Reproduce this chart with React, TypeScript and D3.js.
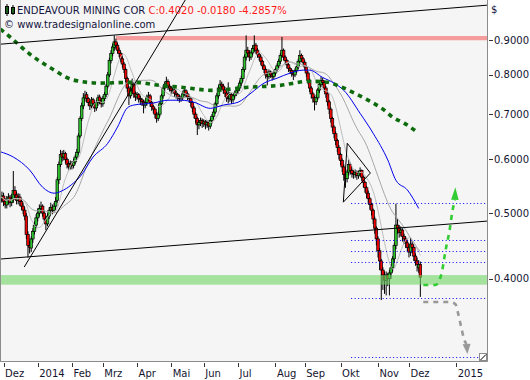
import React from 'react';
import * as d3 from 'd3';

// Prices are stored in thousandths of a dollar (525 = 0.525)
const openK = [520,526,530,520,514,522,528,518,524,540,532,522,528,520,512,505,495,465,448,444,458,470,480,492,500,508,512,500,490,482,495,505,510,505,512,522,560,590,612,605,612,600,592,585,592,588,595,605,615,650,690,720,740,748,738,728,720,735,725,715,728,742,732,725,738,748,770,800,840,860,878,895,885,870,860,845,830,815,790,765,745,760,775,750,742,748,738,735,730,722,728,740,745,728,718,712,700,690,700,725,745,765,775,782,770,765,758,760,752,748,742,738,740,750,758,750,742,738,728,715,700,690,675,680,685,678,682,675,680,672,685,695,705,725,745,765,775,770,760,752,740,738,748,735,745,752,758,765,778,790,815,850,870,862,850,862,875,885,870,858,850,838,825,815,800,795,808,800,795,805,815,825,838,855,870,850,840,828,818,812,805,800,812,822,838,855,845,835,822,805,785,765,750,740,730,740,760,775,785,780,765,750,730,712,690,670,655,640,625,610,598,585,570,562,575,590,578,572,570,575,568,572,578,565,555,545,535,525,515,505,490,475,458,440,425,412,405,398,405,400,408,415,428,448,480,475,468,472,462,458,452,445,438,450,445,432,425,415,420];
const highK = [535,538,536,526,530,535,532,534,577,548,538,535,534,526,518,510,500,470,455,462,475,486,498,508,515,520,515,504,495,500,510,518,515,518,528,565,596,620,618,620,616,604,596,598,597,602,610,622,656,695,728,752,758,755,742,732,742,740,730,735,748,748,738,745,755,776,808,848,870,890,915,905,892,878,866,852,836,820,795,770,768,790,780,756,755,752,745,740,735,735,748,755,750,732,722,716,705,706,730,750,772,782,795,788,776,770,766,764,758,752,748,746,756,765,762,754,748,742,732,720,705,694,686,692,690,688,686,686,684,690,700,712,730,752,772,786,782,776,768,758,780,755,752,750,758,765,772,785,798,822,858,915,880,870,870,885,915,892,876,864,856,842,830,820,806,815,812,805,812,820,832,845,862,910,875,855,845,832,822,816,810,818,828,845,870,860,850,840,826,810,790,770,755,745,748,765,782,795,792,785,770,754,735,716,694,674,660,644,630,614,602,590,575,580,600,594,582,578,580,578,577,584,580,568,558,548,540,528,518,508,494,478,462,444,428,416,410,410,408,412,420,432,452,516,490,480,478,475,466,462,456,448,460,455,448,436,430,426,424];
const lowK = [512,518,512,508,508,515,510,512,518,525,515,515,512,505,498,488,458,430,436,438,452,465,475,486,494,502,494,484,472,478,490,498,498,500,506,518,552,585,596,598,592,582,578,580,580,582,590,600,610,645,684,712,730,728,720,710,714,716,705,708,720,724,716,718,730,742,764,794,832,852,868,872,860,850,835,820,805,780,755,722,738,752,740,732,735,728,722,720,702,714,720,732,718,708,702,690,680,684,694,718,738,756,766,760,756,748,750,742,738,732,728,730,734,744,742,734,728,718,705,690,678,652,665,672,668,670,665,668,662,666,678,688,700,718,738,758,760,750,742,730,726,730,725,728,738,745,750,758,770,782,808,840,850,838,842,855,865,860,848,840,828,815,805,790,772,788,792,785,788,798,808,818,830,848,840,830,818,808,802,795,786,794,805,815,830,836,826,812,795,775,755,738,728,709,722,735,752,768,772,755,740,720,700,680,660,645,630,615,600,588,575,558,545,555,568,570,564,562,564,560,562,566,558,546,536,526,516,506,496,482,466,448,430,412,372,385,380,378,390,378,400,410,422,442,466,460,462,454,450,444,438,430,432,436,425,418,410,408,376];
const closeK = [525,530,520,515,522,528,518,525,540,532,522,528,520,512,505,495,465,448,445,458,470,480,492,500,508,512,500,490,482,495,505,510,505,512,520,560,590,610,605,612,600,590,585,590,588,595,605,615,650,690,720,740,745,738,728,720,735,725,715,728,740,732,725,738,748,770,800,840,860,880,895,885,870,860,845,830,815,790,765,745,760,775,750,742,748,738,735,730,722,728,740,745,728,718,712,700,690,700,725,745,765,775,782,770,765,758,760,752,748,742,738,740,750,758,750,742,738,728,715,700,690,675,680,685,678,682,675,680,672,685,695,705,725,745,765,775,770,760,752,740,738,748,735,745,752,758,765,778,790,815,850,870,862,850,862,875,885,870,858,850,838,825,815,800,795,808,800,795,805,815,825,838,855,870,850,840,828,818,812,805,800,812,822,838,855,845,835,822,805,785,765,750,740,730,740,760,775,785,780,765,750,730,712,690,670,655,640,625,610,598,585,570,562,575,590,578,572,570,575,568,572,578,565,555,545,535,525,515,505,490,475,458,440,425,412,405,398,405,400,408,415,428,448,480,475,468,472,462,458,452,445,438,450,445,432,425,420,420,402];

// 50-day average (blue) read as [bar index, price]
const blueMA: [number, number][] = [[0,0.616],[8,0.605],[18,0.579],[26,0.546],[33,0.535],[39,0.541],[45,0.554],[49,0.566],[57,0.605],[66,0.634],[72,0.670],[78,0.715],[82,0.722],[94,0.727],[103,0.734],[111,0.734],[119,0.729],[129,0.714],[137,0.722],[146,0.729],[154,0.752],[162,0.778],[170,0.791],[178,0.805],[186,0.813],[190,0.813],[198,0.793],[205,0.778],[211,0.759],[221,0.702],[229,0.656],[238,0.599],[243,0.559],[250,0.541],[257,0.508]];
// 200-day average (green dotted)
const greenMA: [number, number][] = [[0,0.935],[6,0.910],[18,0.859],[31,0.819],[45,0.786],[61,0.778],[82,0.780],[98,0.772],[111,0.767],[131,0.759],[152,0.767],[172,0.772],[190,0.783],[201,0.780],[207,0.772],[215,0.757],[225,0.736],[235,0.712],[241,0.693],[248,0.679],[257,0.656]];

const yTicks = [0.4, 0.5, 0.6, 0.7, 0.8, 0.9];
const monthTicks: [string, number][] = [['Dez',2],['2014',23],['Feb',44],['Mrz',63],['Apr',84],['Mai',105],['Jun',125],['Jul',146],['Aug',169],['Sep',187],['Okt',209],['Nov',232],['Dez',251],['2015',280]];

const resistanceBand = [0.900, 0.913];
const resistanceStart = 71;
const supportBand = [0.392, 0.405];
const levels = [0.5173, 0.4562, 0.4394, 0.4233, 0.3746, 0.3066];
const levelsRange = [215.5, 298];
const trendLines: [number, number][][] = [
  [[0, 0.888], [299, 1.014]],
  [[0, 0.4277], [299, 0.4866]],
  [[14.7, 0.4162], [113.6, 1.032]],
];
const triangle: [number, number][] = [[213.1, 0.634], [210.7, 0.519], [227.3, 0.573]];
const greenArrow: [number, number][] = [[259.8,0.3915],[267.2,0.3915],[269.7,0.398],[271.5,0.412],[272.7,0.429],[274,0.447],[275.8,0.469],[277.6,0.502],[279.2,0.523]];
const greenTip: [number, number] = [279.5, 0.546];
const grayArrow: [number, number][] = [[259.8,0.3695],[276.4,0.3695],[279.5,0.367],[281.3,0.3547],[283.2,0.3383],[285,0.3248],[286.4,0.3204]];
const grayTip: [number, number] = [286.9, 0.3097];

const PR = 487, PB = 361;

function sma(vals: number[], n: number): [number, number][] {
  const out: [number, number][] = [];
  for (let i = 0; i < vals.length; i++) {
    const s = vals.slice(Math.max(0, i - n + 1), i + 1);
    out.push([i, d3.mean(s) as number]);
  }
  return out;
}

export default function App() {
  const x = d3.scaleLinear().domain([0, 299]).range([0.3, 487.1]);
  const y = d3.scaleLog().domain([0.3024, 1.032]).range([PB, 0]);
  const closes = closeK.map(v => v / 1000);
  const line = d3.line<[number, number]>().x(d => x(d[0])).y(d => y(d[1]));
  const smooth = d3.line<[number, number]>().x(d => x(d[0])).y(d => y(d[1])).curve(d3.curveMonotoneX);
  const sma10 = sma(closes, 10);
  const sma30 = sma(closes, 30);
  const font = 'DejaVu Sans';

  const arrowHead = (base: [number, number], tip: [number, number], hw: number) => {
    const bx = x(base[0]), by = y(base[1]), tx = x(tip[0]), ty = y(tip[1]);
    const dx = tx - bx, dy = ty - by; const len = Math.hypot(dx, dy) || 1;
    const nx = -dy / len, ny = dx / len;
    return `M${tx},${ty}L${bx + nx * hw},${by + ny * hw}L${bx - nx * hw},${by - ny * hw}Z`;
  };

  return (
    <svg width={530} height={380} style={{ position: 'absolute', left: 0, top: 0, display: 'block' }}>
      <defs>
        <clipPath id="plot"><rect x={0} y={0} width={PR} height={PB} /></clipPath>
      </defs>
      <rect x={0} y={0} width={530} height={380} fill="#ffffff" />
      <rect x={0} y={0} width={PR} height={PB} fill="#f5f5f5" />
      <g clipPath="url(#plot)">
        <rect x={x(resistanceStart)} y={y(resistanceBand[1])} width={PR - x(resistanceStart)} height={y(resistanceBand[0]) - y(resistanceBand[1])} fill="#f59c9c" />
        {/* candles */}
        {closes.map((c, i) => {
          const o = openK[i] / 1000, h = highK[i] / 1000, l = lowK[i] / 1000;
          const cx = x(i);
          const top = y(Math.max(o, c)), bot = y(Math.min(o, c));
          const up = c >= o;
          return (
            <g key={i}>
              <line x1={cx} x2={cx} y1={y(h)} y2={y(l)} stroke="#000" strokeWidth={1} />
              <rect x={cx - 1.3} y={top} width={2.6} height={Math.max(1, bot - top)} fill={up ? '#2ec42e' : '#f00000'} stroke="#000" strokeWidth={0.7} />
            </g>
          );
        })}
        <rect x={0} y={y(supportBand[1])} width={PR} height={y(supportBand[0]) - y(supportBand[1])} fill="rgb(110,214,100)" fillOpacity={0.6} />
        <path d={smooth(sma30) || ''} fill="none" stroke="#a6a6a6" strokeWidth={1} />
        <path d={smooth(sma10) || ''} fill="none" stroke="#bdbdbd" strokeWidth={1} />
        <path d={smooth(blueMA) || ''} fill="none" stroke="#0000ee" strokeWidth={1} />
        <path d={smooth(greenMA) || ''} fill="none" stroke="#0d6b0d" strokeWidth={3.6} strokeDasharray="4.5 4.5" />
        {levels.map((v, k) => (
          <line key={k} x1={x(levelsRange[0])} x2={x(levelsRange[1])} y1={Math.round(y(v)) + 0.5} y2={Math.round(y(v)) + 0.5} stroke="#0000ff" strokeWidth={1} strokeDasharray="1 2.5" />
        ))}
        {trendLines.map((t, k) => (
          <path key={k} d={line(t) || ''} fill="none" stroke="#000" strokeWidth={1} />
        ))}
        <path d={(line(triangle) || '') + 'Z'} fill="none" stroke="#000" strokeWidth={1} />
        <path d={smooth(greenArrow) || ''} fill="none" stroke="#33cc33" strokeWidth={2.6} strokeDasharray="5 5" />
        <path d={arrowHead(greenArrow[greenArrow.length - 1], greenTip, 3.8)} fill="#33cc33" />
        <path d={smooth(grayArrow) || ''} fill="none" stroke="#999999" strokeWidth={2.6} strokeDasharray="5 5" />
        <path d={arrowHead(grayArrow[grayArrow.length - 1], grayTip, 4)} fill="#999999" />
      </g>
      {/* borders */}
      <line x1={0.5} x2={0.5} y1={0} y2={PB + 0.5} stroke="#8c8c8c" />
      <line x1={0} x2={PR + 0.5} y1={PB + 0.5} y2={PB + 0.5} stroke="#8c8c8c" />
      <line x1={PR + 0.5} x2={PR + 0.5} y1={0} y2={PB + 0.5} stroke="#8c8c8c" />
      <rect x={479.5} y={353.5} width={7} height={7} fill="#fff" stroke="#8c8c8c" />
      <line x1={480.5} x2={486} y1={360} y2={354.5} stroke="#000" />
      {/* title */}
      <rect x={5.5} y={6.5} width={3} height={7} fill="#2ec42e" stroke="#000" />
      <line x1={7} x2={7} y1={4} y2={16} stroke="#000" />
      <rect x={11.5} y={7.5} width={3} height={6} fill="#2ec42e" stroke="#000" />
      <line x1={13} x2={13} y1={5} y2={15} stroke="#000" />
      <text x={17} y={14} fontFamily={font} fontSize={10} fill="#141440">
        ENDEAVOUR MINING COR
        <tspan fill="#ff1a1a"> C:0.4020 -0.0180 -4.2857%</tspan>
      </text>
      <text x={4} y={28} fontFamily={font} fontSize={10} fill="#141440">© www.tradesignalonline.com</text>
      {/* y axis */}
      <text x={491} y={13} fontFamily={font} fontSize={10} fill="#141440">$</text>
      {yTicks.map(v => (
        <g key={v}>
          <line x1={489} x2={493} y1={Math.round(y(v)) + 0.5} y2={Math.round(y(v)) + 0.5} stroke="#333" />
          <text x={494} y={y(v) + 3.6} fontFamily={font} fontSize={10} fill="#141430">{v.toFixed(4)}</text>
        </g>
      ))}
      {/* x axis */}
      {monthTicks.map(([lab, idx], k) => (
        <g key={k}>
          <line x1={Math.round(x(idx)) + 0.5} x2={Math.round(x(idx)) + 0.5} y1={363} y2={367} stroke="#333" />
          <text x={x(idx) + 1.5} y={377} fontFamily={font} fontSize={10} fill="#141430">{lab}</text>
        </g>
      ))}
    </svg>
  );
}
